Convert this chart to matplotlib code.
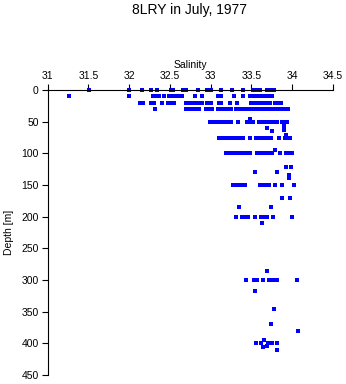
import matplotlib
matplotlib.use("Agg")
import matplotlib.pyplot as plt

# Salinity observations grouped by depth [m]
d0_sal = [31.512, 32.0, 32.155, 32.265, 32.338, 32.509, 32.533, 32.655, 32.691, 32.838,
          32.96, 33.009, 33.131, 33.265, 33.40, 33.52, 33.57, 33.606, 33.69, 33.74, 33.78]
d10_sal = [31.256, 32.0, 32.289, 32.326, 32.362, 32.423, 32.484, 32.521, 32.557, 32.606,
           32.643, 32.813, 32.899, 33.094, 33.131, 33.289, 33.399, 33.484, 33.521, 33.557,
           33.594, 33.63, 33.667, 33.716, 33.752]
d20_sal = [32.13, 32.167, 32.265, 32.301, 32.399, 32.472, 32.496, 32.545, 32.691, 32.728,
           32.765, 32.801, 32.838, 32.887, 32.96, 33.009, 33.106, 33.131, 33.24, 33.326,
           33.496, 33.545, 33.582, 33.618, 33.655, 33.69, 33.728, 33.789, 33.826, 33.862]
d30_sal = [32.313, 32.691, 32.716, 32.765, 32.789, 32.826, 32.862, 32.948, 32.984, 33.021,
           33.094, 33.118, 33.167, 33.216, 33.252, 33.313, 33.362, 33.399, 33.435, 33.472,
           33.509, 33.545, 33.582, 33.618, 33.655, 33.691, 33.728, 33.765, 33.801, 33.838,
           33.874, 33.911, 33.948]
d50_sal = [32.996, 33.033, 33.069, 33.106, 33.143, 33.179, 33.216, 33.252, 33.332, 33.448,
           33.484, 33.521, 33.594, 33.63, 33.667, 33.704, 33.74, 33.777, 33.814, 33.874,
           33.911, 33.935]
d75_sal = [33.106, 33.143, 33.179, 33.216, 33.252, 33.289, 33.326, 33.362, 33.399, 33.478,
           33.557, 33.594, 33.63, 33.667, 33.704, 33.74, 33.838, 33.911, 33.948, 33.972]
d100_sal = [33.191, 33.228, 33.265, 33.301, 33.338, 33.374, 33.411, 33.448, 33.484, 33.57,
            33.606, 33.643, 33.679, 33.716, 33.752, 33.85, 33.923, 33.96, 33.996]
d150_sal = [33.277, 33.313, 33.35, 33.386, 33.423, 33.606, 33.643, 33.679, 33.716, 33.789,
            33.878, 34.02]
d200_sal = [33.313, 33.386, 33.423, 33.46, 33.549, 33.615, 33.655, 33.691, 33.759, 33.996]
d300_sal = [33.433, 33.533, 33.57, 33.64, 33.716, 33.765, 33.817, 34.063]
d400_sal = [33.561, 33.622, 33.704, 33.746, 33.817]

# scattered individual observations (depth, salinity)
extra_depth = [46, 54, 57, 60, 63, 60, 65, 71, 95, 121, 121, 129, 130, 134, 139,
               171, 171, 184, 185, 210, 286, 318, 345, 370, 380, 395, 404, 406, 410]
extra_sal = [33.484, 33.894, 33.894, 33.894, 33.894, 33.685, 33.752, 33.923, 33.793,
             33.923, 33.984, 33.817, 33.545, 33.956, 33.956, 33.878, 33.972, 33.341,
             33.744, 33.634, 33.695, 33.537, 33.771, 33.744, 34.076, 33.655, 33.695,
             33.643, 33.807]

groups = [(0, d0_sal), (10, d10_sal), (20, d20_sal), (30, d30_sal), (50, d50_sal),
          (75, d75_sal), (100, d100_sal), (150, d150_sal), (200, d200_sal),
          (300, d300_sal), (400, d400_sal)]

sal, dep = [], []
for d, s_list in groups:
    sal.extend(s_list)
    dep.extend([d] * len(s_list))
sal.extend(extra_sal)
dep.extend(extra_depth)

xticks = [31, 31.5, 32, 32.5, 33, 33.5, 34, 34.5]
xticklabels = ["31", "31.5", "32", "32.5", "33", "33.5", "34", "34.5"]
yticks = [0, 50, 100, 150, 200, 250, 300, 350, 400, 450]

plt.rcParams['font.family'] = ['Liberation Sans', 'DejaVu Sans']

fig = plt.figure(figsize=(3.46, 3.84), dpi=100)
ax = fig.add_axes([47.7 / 346, 1 - 375 / 384, (333 - 47.7) / 346, (375 - 90) / 384])

ax.plot(sal, dep, linestyle='none', marker='s', markersize=2.2, color='#0000ff',
        markeredgewidth=0, clip_on=False, antialiased=False)

ax.set_xlim(31, 34.5)
ax.set_ylim(450, 0)
ax.xaxis.tick_top()
ax.xaxis.set_label_position('top')
ax.set_xticks(xticks)
ax.set_xticklabels(xticklabels)
ax.set_yticks(yticks)
ax.tick_params(axis='both', labelsize=7.5, length=4.5, width=0.8, color='black', pad=2)
ax.spines['bottom'].set_visible(False)
ax.spines['right'].set_visible(False)
for sp in ['top', 'left']:
    ax.spines[sp].set_linewidth(0.8)
ax.set_xlabel('Salinity', fontsize=7.5, labelpad=2)
ax.set_ylabel('Depth [m]', fontsize=7.5, labelpad=5)

fig.text(190 / 346, 1 - 10 / 384, '8LRY in July, 1977', ha='center', va='center', fontsize=10)

fig.savefig('out.png', dpi=100)
